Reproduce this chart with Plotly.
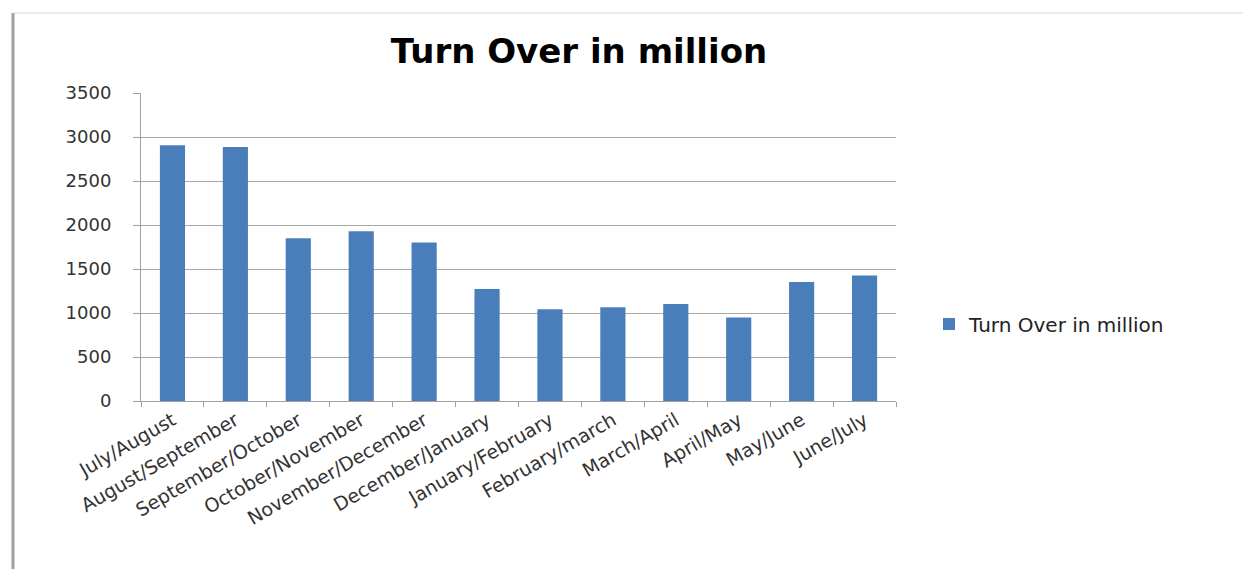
import plotly.graph_objects as go

# Monthly turnover periods and values (in million)
periods = [
    "July/August", "August/September", "September/October", "October/November",
    "November/December", "December/January", "January/February", "February/march",
    "March/April", "April/May", "May/June", "June/July",
]
turnover = [2905, 2885, 1850, 1930, 1800, 1272, 1042, 1065, 1102, 948, 1352, 1425]

series_name = "Turn Over in million"
y_ticks = [0, 500, 1000, 1500, 2000, 2500, 3000, 3500]

W, H = 1243, 569
plot_l, plot_r, plot_t, plot_b = 141, 896, 93, 401

fig = go.Figure(
    go.Bar(
        x=periods,
        y=turnover,
        name=series_name,
        marker=dict(color="#4a7ebb", line=dict(width=0)),
        width=0.4,
    )
)

pw = plot_r - plot_l
ph = plot_b - plot_t


def px_x(v):
    return (v - plot_l) / pw


def px_y(v):
    return (plot_b - v) / ph


fig.update_layout(
    width=W,
    height=H,
    margin=dict(l=plot_l, r=W - plot_r, t=plot_t, b=H - plot_b),
    paper_bgcolor="white",
    plot_bgcolor="white",
    showlegend=True,
    title=dict(
        text="<b>" + series_name + "</b>",
        x=579 / W,
        xanchor="center",
        y=1 - 51 / H,
        yanchor="middle",
        font=dict(family="DejaVu Sans", size=34, color="#000000"),
    ),
    legend=dict(
        x=px_x(929),
        y=px_y(324),
        xanchor="left",
        yanchor="middle",
        font=dict(family="DejaVu Sans", size=20, color="#222222"),
        bgcolor="rgba(0,0,0,0)",
        itemwidth=30,
    ),
    xaxis=dict(
        type="category",
        tickangle=-30,
        tickfont=dict(family="DejaVu Sans", size=19, color="#333333"),
        showline=True,
        linecolor="#a0a0a0",
        linewidth=1,
        ticks="outside",
        tickson="boundaries",
        ticklen=5,
        tickcolor="#a0a0a0",
        showgrid=False,
    ),
    yaxis=dict(
        range=[0, 3500],
        tickvals=y_ticks,
        tickfont=dict(family="DejaVu Sans", size=18, color="#333333"),
        showline=True,
        linecolor="#a0a0a0",
        linewidth=1,
        ticks="outside",
        ticklen=7,
        tickcolor="#a0a0a0",
        showgrid=True,
        gridcolor="#a8a8a8",
        gridwidth=1,
        zeroline=False,
        ticklabelstandoff=18,
    ),
    shapes=[
        # left frame edge
        dict(type="line", xref="paper", yref="paper",
             x0=px_x(13), x1=px_x(13), y0=px_y(13), y1=px_y(H + 5),
             line=dict(color="#a0a0a0", width=3)),
        # top frame edge
        dict(type="line", xref="paper", yref="paper",
             x0=px_x(14), x1=px_x(W + 5), y0=px_y(13), y1=px_y(13),
             line=dict(color="#d4d4d4", width=1)),
    ],
)

fig.write_html("out.html")
